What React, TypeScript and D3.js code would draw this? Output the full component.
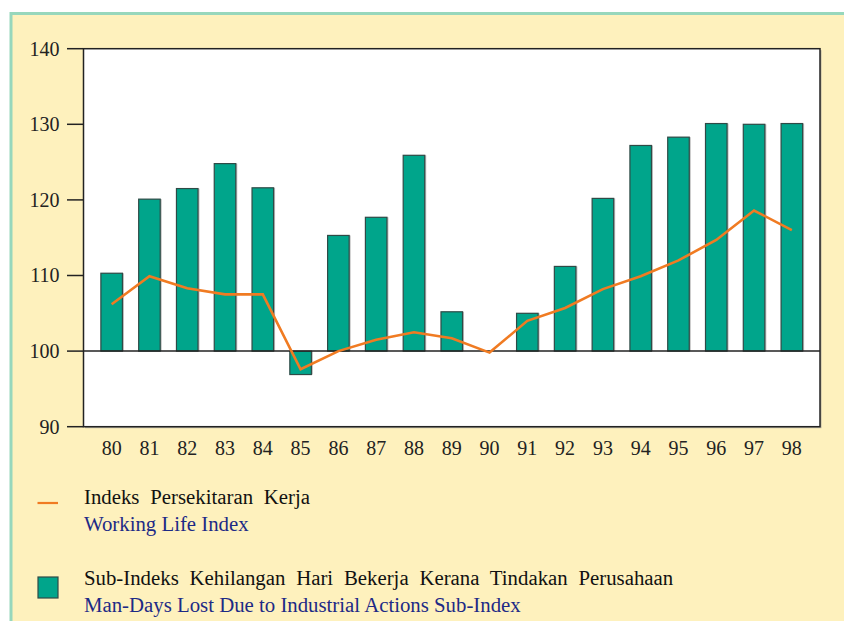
import React, { useRef, useEffect } from 'react';
import * as d3 from 'd3';

const years = ['80', '81', '82', '83', '84', '85', '86', '87', '88', '89', '90', '91', '92', '93', '94', '95', '96', '97', '98'];
const subIndex = [110.3, 120.1, 121.5, 124.8, 121.6, 96.9, 115.3, 117.7, 125.9, 105.2, 100, 105.0, 111.2, 120.2, 127.2, 128.3, 130.1, 130.0, 130.1];
const workingLife = [106.2, 109.9, 108.3, 107.5, 107.5, 97.6, 100.0, 101.5, 102.5, 101.7, 99.8, 104.0, 105.7, 108.2, 109.9, 112.0, 114.7, 118.6, 116.0];
const yTicks = [90, 100, 110, 120, 130, 140];
const legendItems = [
  { kind: 'line', ms: 'Indeks Persekitaran Kerja', en: 'Working Life Index' },
  { kind: 'box', ms: 'Sub-Indeks Kehilangan Hari Bekerja Kerana Tindakan Perusahaan', en: 'Man-Days Lost Due to Industrial Actions Sub-Index' }
];

const TEAL = '#00a58b';
const ORANGE = '#f07b22';
const NAVY = '#1d2a86';
const FONT = "'Liberation Serif', 'Times New Roman', Times, 'DejaVu Serif', serif";

const App = () => {
  const ref = useRef(null);

  useEffect(() => {
    const width = 844, height = 621;
    const left = 83.5, right = 820, top = 48.7, bottom = 426.7;

    const svg = d3.select(ref.current);
    svg.selectAll('*').remove();
    svg.attr('width', width).attr('height', height).attr('viewBox', [0, 0, width, height]);

    // panel behind everything
    svg.append('rect').attr('x', 0).attr('y', 0).attr('width', width).attr('height', height).attr('fill', '#fff');
    svg.append('rect')
      .attr('x', 11).attr('y', 13.5).attr('width', width).attr('height', height)
      .attr('fill', '#fef1bd').attr('stroke', '#97d7bc').attr('stroke-width', 3);

    const x = d3.scaleBand().domain(years).range([left, right]).paddingInner(0.43).paddingOuter(0.46);
    const y = d3.scaleLinear().domain([90, 140]).range([bottom, top]);

    // plot area
    svg.append('rect')
      .attr('x', left + 1.5).attr('y', top + 1.5).attr('width', right - left).attr('height', bottom - top)
      .attr('fill', '#b9b4a0');
    svg.append('rect')
      .attr('x', left).attr('y', top).attr('width', right - left).attr('height', bottom - top)
      .attr('fill', '#fff').attr('stroke', '#222').attr('stroke-width', 1.5);

    // bars (skip the one sitting on 100)
    const barData = years.map((yr, i) => ({ yr, v: subIndex[i] })).filter(d => d.v !== 100);
    const bars = svg.append('g');
    bars.selectAll('rect.shadow')
      .data(barData)
      .join('rect')
      .attr('class', 'shadow')
      .attr('x', d => x(d.yr) + 1.5)
      .attr('y', d => Math.min(y(d.v), y(100)))
      .attr('width', x.bandwidth())
      .attr('height', d => Math.abs(y(d.v) - y(100)))
      .attr('fill', '#bdbdbd');
    bars.selectAll('rect.bar')
      .data(barData)
      .join('rect')
      .attr('class', 'bar')
      .attr('x', d => x(d.yr))
      .attr('y', d => Math.min(y(d.v), y(100)))
      .attr('width', x.bandwidth())
      .attr('height', d => Math.abs(y(d.v) - y(100)))
      .attr('fill', TEAL)
      .attr('stroke', '#2f4a46')
      .attr('stroke-width', 1.2);

    // baseline at 100
    svg.append('line')
      .attr('x1', left).attr('x2', right).attr('y1', y(100)).attr('y2', y(100))
      .attr('stroke', '#222').attr('stroke-width', 1.5);

    // working life index line
    const line = d3.line()
      .x((d, i) => x(years[i]) + x.bandwidth() / 2)
      .y(d => y(d));
    svg.append('path')
      .datum(workingLife)
      .attr('d', line)
      .attr('fill', 'none')
      .attr('stroke', ORANGE)
      .attr('stroke-width', 2.6)
      .attr('stroke-linejoin', 'miter');

    // y axis
    const yAxis = svg.append('g');
    yAxis.selectAll('line')
      .data(yTicks)
      .join('line')
      .attr('x1', 67).attr('x2', left).attr('y1', d => y(d)).attr('y2', d => y(d))
      .attr('stroke', '#222').attr('stroke-width', 1.5);
    yAxis.selectAll('text')
      .data(yTicks)
      .join('text')
      .attr('x', 59.5).attr('y', d => y(d))
      .attr('dy', '0.34em')
      .attr('text-anchor', 'end')
      .style('font-family', FONT).style('font-size', '20px').attr('fill', '#222')
      .text(d => d);

    // x labels
    svg.append('g').selectAll('text')
      .data(years)
      .join('text')
      .attr('x', d => x(d) + x.bandwidth() / 2)
      .attr('y', 455)
      .attr('text-anchor', 'middle')
      .style('font-family', FONT).style('font-size', '20px').attr('fill', '#222')
      .text(d => d);

    // legend
    const legend = svg.append('g');
    legendItems.forEach((item, i) => {
      const gy = 504 + i * 81;
      if (item.kind === 'line') {
        legend.append('line')
          .attr('x1', 37.5).attr('x2', 58).attr('y1', gy - 1).attr('y2', gy - 1)
          .attr('stroke', ORANGE).attr('stroke-width', 2.2);
      } else {
        legend.append('rect')
          .attr('x', 38).attr('y', gy - 8).attr('width', 20).attr('height', 21)
          .attr('fill', TEAL).attr('stroke', '#2f4a46').attr('stroke-width', 1.2);
      }
      legend.append('text')
        .attr('x', 84).attr('y', gy)
        .style('font-family', FONT).style('font-size', '20.8px').attr('fill', '#111')
        .style('word-spacing', '5.6px')
        .text(item.ms);
      legend.append('text')
        .attr('x', 84).attr('y', gy + 27)
        .style('font-family', FONT).style('font-size', '20.8px').attr('fill', NAVY)
        .text(item.en);
    });
  }, []);

  return (
    <svg ref={ref} style={{ position: 'absolute', left: 0, top: 0, display: 'block' }}></svg>
  );
};

export default App;
